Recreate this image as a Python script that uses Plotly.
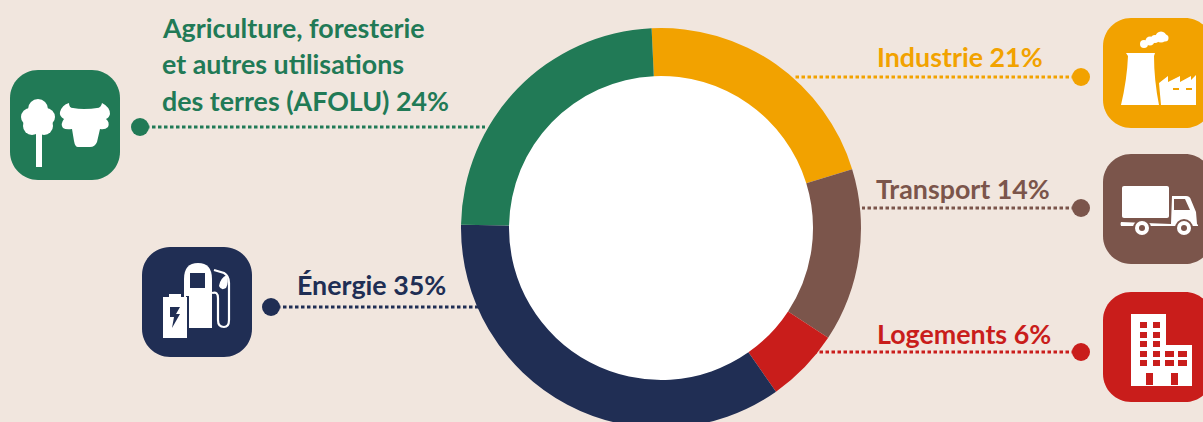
import plotly.graph_objects as go

# ---- data ----
categories = ["Industrie", "Transport", "Logements", "Énergie", "AFOLU"]
values = [21, 14, 6, 35, 24]
colors = ["#F2A200", "#7B554B", "#C91D1B", "#202E54", "#217A56"]

W, H_FULL = 1203, 456
BG = "#F1E6DE"
FONT = "Lato"

# label text: (text, left x, vertical centre y, colour index)
labels_text = ["Agriculture, foresterie", "et autres utilisations", "des terres (AFOLU) 24%",
               "Énergie 35%", "Industrie 21%", "Transport 14%", "Logements 6%"]
labels_x = [161, 161, 161, 296, 876, 875, 876]
labels_y = [28, 64, 101, 285, 57, 189, 334]
labels_c = [4, 4, 4, 3, 0, 1, 2]

# leader lines: colour index, x at dot, x at ring, y
lead_c = [4, 3, 0, 1, 2]
lead_x0 = [140, 271, 1081, 1081, 1081]
lead_x1 = [485, 480, 793, 862, 816]
lead_y = [127, 307, 77, 208, 352]

shapes = []


def path(d, fill, line=None, lw=0):
    shapes.append(dict(type="path", xref="x", yref="y", path=d, fillcolor=fill,
                       line=dict(color=line or "rgba(0,0,0,0)", width=lw), layer="above"))


def stroke(d, color, lw):
    shapes.append(dict(type="path", xref="x", yref="y", path=d, fillcolor="rgba(0,0,0,0)",
                       line=dict(color=color, width=lw), layer="above"))


def circ(cx, cy, r, fill, layer="above"):
    shapes.append(dict(type="circle", xref="x", yref="y", x0=cx - r, x1=cx + r, y0=cy - r, y1=cy + r,
                       fillcolor=fill, line=dict(width=0), layer=layer))


def rect(x0, y0, x1, y1, fill):
    shapes.append(dict(type="rect", xref="x", yref="y", x0=x0, x1=x1, y0=y0, y1=y1,
                       fillcolor=fill, line=dict(width=0), layer="above"))


def rrect(x0, y0, x1, y1, r, fill):
    k = r * 0.45
    d = (f"M{x0+r},{y0} L{x1-r},{y0} C{x1-k},{y0} {x1},{y0+k} {x1},{y0+r} L{x1},{y1-r} "
         f"C{x1},{y1-k} {x1-k},{y1} {x1-r},{y1} L{x0+r},{y1} C{x0+k},{y1} {x0},{y1-k} {x0},{y1-r} "
         f"L{x0},{y0+r} C{x0},{y0+k} {x0+k},{y0} {x0+r},{y0} Z")
    path(d, fill)


# white disc behind the ring
circ(661, 228, 156, "#FFFFFF", layer="below")

# icon tiles
rrect(10, 70, 120, 180, 28, colors[4])
rrect(142, 247, 252, 357, 28, colors[3])
rrect(1103, 18, 1213, 128, 28, colors[0])
rrect(1103, 154, 1213, 264, 28, colors[1])
rrect(1103, 292, 1213, 402, 28, colors[2])

WHITE = "#FFFFFF"
# tree
rect(36, 130, 42, 167, WHITE)
for c in [(38, 109, 10), (30, 117, 9), (46, 117, 9), (32, 126, 9), (44, 126, 9), (38, 118, 10)]:
    circ(*c, WHITE)
# bull
path("M69,103 Q69,108 73,108 Q78,109 84,109 Q92,109 97,108 Q101,108 102,103 Q110,107 110,114 "
     "Q109,118 106,119 Q110,122 108,127 Q105,130 100,129 L97,142 Q95,147 90,147 L78,147 "
     "Q75,147 74,141 L72,129 Q66,130 63,128 Q60,124 64,119 Q59,116 60,112 Q62,105 69,103 Z", WHITE)

# fuel pump
path("M184,328 L184,279 Q184,263 198,263 Q212,263 212,279 L212,328 Z", WHITE)
rect(190, 273, 205, 288, colors[3])
rect(186, 296, 189, 340, colors[3])
rect(163, 297, 187, 338, WHITE)
rect(169, 294, 181, 298, WHITE)
path("M170,307 L180,307 L176,314 L180,314 L172,328 L174,317 L170,317 Z", colors[3])
stroke("M212,293 Q218,291 218,298 L218,320 Q218,327 224,327 Q229,327 229,320 L229,283 "
       "Q229,276 224,273 L214,270", WHITE, 2.2)
path("M219,286 Q220,278 227,275 Q229,283 226,288 Q221,291 219,286 Z", WHITE)

# industry
path("M1126,53 L1155,53 L1154,56 Q1154,80 1159,105 L1121,105 Q1127,80 1128,56 Z", WHITE)
for c in [(1144, 44, 4), (1150, 41, 4.5), (1155, 39, 4), (1161, 37, 5.5), (1165, 38, 3.5)]:
    circ(*c, WHITE)
path("M1159,83 L1168,76 L1168,82 L1180,76 L1180,82 L1191,76 L1191,80 L1196,75 L1196,105 L1161,105 Z", WHITE)
rect(1173, 88, 1179, 90, colors[0])
rect(1186, 88, 1192, 90, colors[0])

# truck
rrect(1122, 186, 1169, 218, 2, WHITE)
path("M1121,222 L1171,224 L1172,196 L1186,196 Q1190,196 1191,200 L1196,212 L1197,224 L1198,225 "
     "L1198,226 L1121,226 Q1120,224 1121,222 Z", WHITE)
path("M1174,199 L1185,199 L1190,210 L1174,210 Z", colors[1])
for cx in (1142, 1184):
    circ(cx, 228, 9, colors[1])
    circ(cx, 228, 7, WHITE)
    circ(cx, 228, 3, colors[1])

# building
rect(1131, 314, 1166, 386, WHITE)
rect(1166, 345, 1192, 386, WHITE)
for y0 in (322, 332, 341, 351, 360):
    rect(1140, y0, 1147, y0 + 6, colors[2])
    rect(1153, y0, 1160, y0 + 6, colors[2])
for y0 in (351, 360):
    rect(1165, y0, 1174, y0 + 6, colors[2])
    rect(1178, y0, 1187, y0 + 6, colors[2])
rect(1146, 373, 1153, 385, colors[2])
rect(1171, 373, 1178, 385, colors[2])

fig = go.Figure()

# ring
fig.add_trace(go.Pie(labels=categories, values=values, sort=False, direction="clockwise", rotation=-2.7,
                     hole=0.76, marker=dict(colors=colors, line=dict(width=0)), textinfo="none",
                     hoverinfo="label+percent", showlegend=False,
                     domain=dict(x=[461 / W, 861 / W], y=[28 / H_FULL, 428 / H_FULL])))

# leaders
for ci, x0, x1, y in zip(lead_c, lead_x0, lead_x1, lead_y):
    fig.add_trace(go.Scatter(x=[x0, x1], y=[y, y], mode="lines", showlegend=False, hoverinfo="skip",
                             line=dict(color=colors[ci], width=3, dash="3.5px,2.5px")))
    fig.add_trace(go.Scatter(x=[x0], y=[y], mode="markers", showlegend=False, hoverinfo="skip",
                             marker=dict(color=colors[ci], size=18, line=dict(width=0))))

annotations = [dict(x=x, y=y, xref="x", yref="y", text=f"<b>{t}</b>", showarrow=False, xanchor="left",
                    yanchor="middle", align="left", borderpad=0,
                    font=dict(family=FONT, size=26.8, color=colors[c]))
               for t, x, y, c in zip(labels_text, labels_x, labels_y, labels_c)]

fig.update_layout(
    width=W, height=H_FULL, margin=dict(l=0, r=0, t=0, b=0, pad=0),
    paper_bgcolor=BG, plot_bgcolor=BG, showlegend=False,
    xaxis=dict(range=[0, W], visible=False, fixedrange=True),
    yaxis=dict(range=[H_FULL, 0], visible=False, fixedrange=True),
    shapes=shapes, annotations=annotations,
)

fig.write_html("out.html", config=dict(displayModeBar=False),
               post_script="document.body.style.margin='0';document.body.style.overflow='hidden';"
                           "document.documentElement.style.overflow='hidden';"
                           f"document.body.style.background='{BG}';")
